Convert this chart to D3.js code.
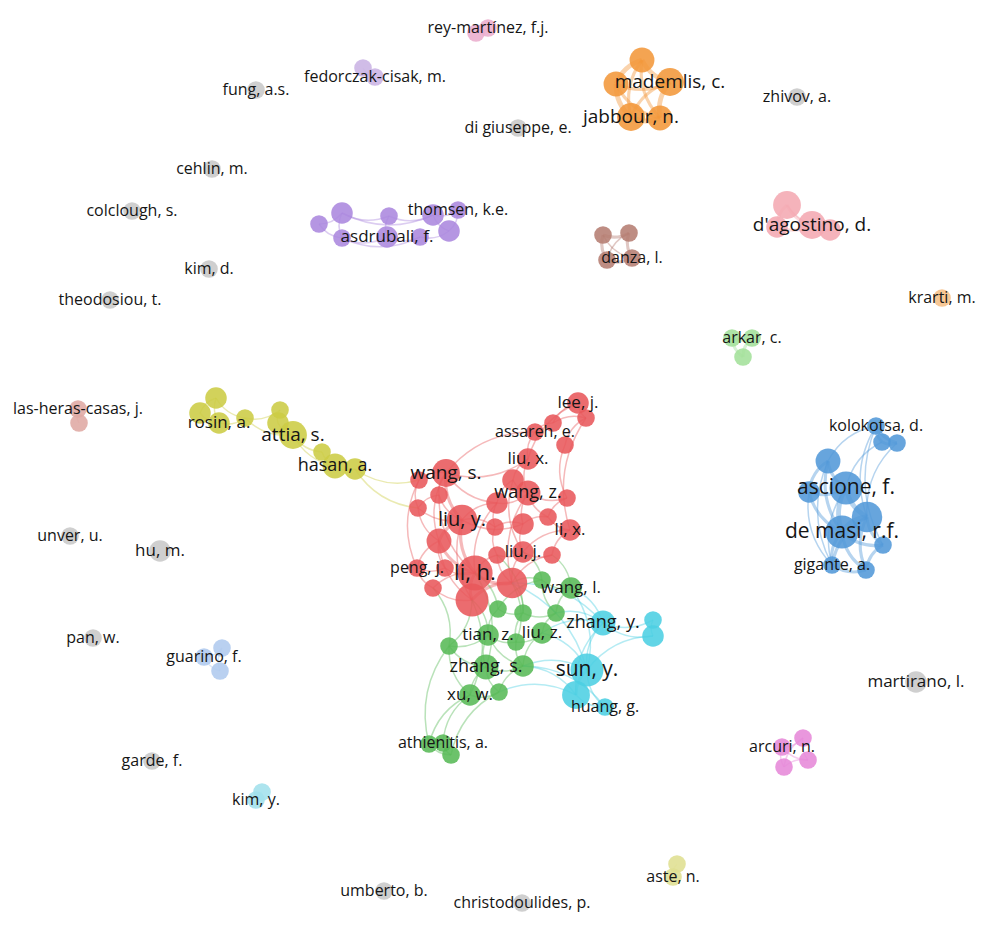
<!DOCTYPE html>
<html>
<head>
<meta charset="utf-8">
<script src="https://cdn.jsdelivr.net/npm/d3@7"></script>
<style>
  html, body { margin: 0; background: #fff; }
  svg { display: block; }
</style>
</head>
<body>
<svg id="map"></svg>
<script>
/* Co-authorship map (VOSviewer style) drawn with D3 v7 */

const clusterNames  = ["red", "green", "blue", "yellow", "purple", "cyan", "orange", "brown", "pink",
                       "lightgreen", "peach", "rose", "lavender", "salmon", "aqua", "sky", "magenta", "olive", "none"];
const clusterColors = ["#e8585b", "#58b957", "#5298d8", "#cccc44", "#ab88de", "#4ccfe2", "#f2973a", "#b57d72", "#f4a9b2",
                       "#a3e09a", "#f6bf86", "#ebadcd", "#c9b3e4", "#dfa9a3", "#a2e0ec", "#afc9ee", "#e689d8", "#dfdf91", "#c8c8c8"];

// [id, label, mapX, mapY, weight]
const redNodes = [
  ["r1", "lee, j.", 578, 403, 3], ["r2", "", 586, 418, 2], ["r3", "", 553, 423, 2],
  ["r4", "assareh, e.", 535, 432, 2], ["r5", "", 565, 445, 2], ["r6", "liu, x.", 528, 459, 3],
  ["r7", "", 513, 480, 3], ["r8", "wang, s.", 446, 473, 5], ["r9", "", 419, 480, 2],
  ["r10", "", 439, 495, 2], ["r11", "", 418, 508, 2], ["r12", "", 497, 503, 3],
  ["r13", "wang, z.", 528, 493, 4], ["r14", "", 567, 498, 2], ["r15", "", 548, 517, 2],
  ["r16", "", 523, 524, 3], ["r17", "", 495, 527, 2], ["r18", "liu, y.", 462, 520, 6],
  ["r19", "li, x.", 570, 530, 3], ["r20", "", 439, 541, 4], ["r21", "", 497, 555, 2],
  ["r22", "liu, j.", 523, 552, 3], ["r23", "", 552, 555, 2], ["r24", "peng, j.", 417, 568, 2],
  ["r25", "", 445, 568, 2], ["r26", "li, h.", 475, 573, 8], ["r27", "", 512, 583, 6],
  ["r28", "", 433, 588, 2], ["r29", "", 472, 600, 7]
];
const greenNodes = [
  ["g1", "", 542, 580, 2], ["g2", "wang, l.", 571, 588, 3], ["g3", "", 498, 609, 2],
  ["g4", "", 523, 613, 2], ["g5", "", 556, 613, 2], ["g6", "", 449, 646, 2],
  ["g7", "tian, z.", 488, 635, 3], ["g8", "", 516, 642, 2], ["g9", "liu, z.", 542, 633, 3],
  ["g10", "zhang, s.", 486, 667, 4], ["g11", "", 523, 666, 3], ["g12", "xu, w.", 470, 695, 3],
  ["g13", "", 499, 692, 2], ["g14", "", 429, 744, 2], ["g15", "athienitis, a.", 443, 743, 2],
  ["g16", "", 451, 755, 2]
];
const cyanNodes = [
  ["c1", "zhang, y.", 603, 623, 4], ["c2", "", 653, 620, 2], ["c3", "", 653, 636, 3],
  ["c4", "sun, y.", 587, 670, 7], ["c5", "", 576, 695, 5], ["c6", "huang, g.", 605, 707, 2]
];
const blueNodes = [
  ["b1", "kolokotsa, d.", 876, 426, 2], ["b2", "", 882, 442, 2], ["b3", "", 897, 443, 2],
  ["b4", "", 828, 461, 4], ["b5", "", 809, 492, 3], ["b6", "ascione, f.", 846, 488, 7],
  ["b7", "", 867, 517, 6], ["b8", "de masi, r.f.", 842, 532, 7], ["b9", "", 883, 545, 2],
  ["b10", "gigante, a.", 832, 565, 2], ["b11", "", 866, 570, 2]
];
const orangeNodes = [
  ["o1", "", 642, 60, 4], ["o2", "", 616, 84, 4], ["o3", "mademlis, c.", 670, 82, 5],
  ["o4", "jabbour, n.", 631, 117, 5], ["o5", "", 660, 118, 4]
];
const purpleNodes = [
  ["p1", "", 319, 224, 2], ["p2", "", 342, 213, 3], ["p3", "", 342, 238, 2],
  ["p4", "", 389, 216, 2], ["p5", "asdrubali, f.", 387, 237, 3], ["p6", "", 420, 237, 2],
  ["p7", "", 433, 215, 3], ["p8", "", 449, 231, 3], ["p9", "thomsen, k.e.", 458, 210, 2]
];
const yellowNodes = [
  ["y1", "", 216, 398, 3], ["y2", "", 200, 413, 3], ["y3", "rosin, a.", 219, 423, 3],
  ["y4", "", 245, 418, 2], ["y5", "", 280, 410, 2], ["y6", "", 278, 423, 3],
  ["y7", "attia, s.", 293, 435, 5], ["y8", "", 322, 452, 2], ["y9", "hasan, a.", 335, 466, 4],
  ["y10", "", 355, 469, 3]
];
const brownNodes = [
  ["dz1", "", 603, 235, 2], ["dz2", "", 629, 233, 2], ["dz3", "", 607, 260, 2], ["dz4", "danza, l.", 632, 258, 2]
];
const pinkNodes = [
  ["da1", "", 787, 205, 5], ["da2", "", 777, 227, 3], ["da3", "d'agostino, d.", 812, 225, 5], ["da4", "", 830, 230, 3]
];
const lightGreenNodes = [["ak1", "", 732, 338, 2], ["ak2", "arkar, c.", 752, 338, 2], ["ak3", "", 743, 357, 2]];
const peachNodes      = [["kr1", "krarti, m.", 942, 298, 2]];
const roseNodes       = [["rm1", "", 476, 33, 2], ["rm2", "rey-martínez, f.j.", 488, 28, 2]];
const lavenderNodes   = [["fc1", "", 363, 68, 2], ["fc2", "fedorczak-cisak, m.", 375, 77, 2]];
const salmonNodes     = [["lh1", "las-heras-casas, j.", 78, 409, 2], ["lh2", "", 79, 423, 2]];
const aquaNodes       = [["ky1", "", 262, 792, 2], ["ky2", "kim, y.", 256, 800, 2]];
const skyNodes        = [["gu1", "guarino, f.", 204, 657, 2], ["gu2", "", 222, 648, 2], ["gu3", "", 220, 671, 2]];
const magentaNodes    = [["ar1", "arcuri, n.", 782, 747, 2], ["ar2", "", 803, 738, 2], ["ar3", "", 808, 760, 2], ["ar4", "", 784, 767, 2]];
const oliveNodes      = [["as1", "", 677, 864, 2], ["as2", "aste, n.", 673, 877, 2]];
const isolatedNodes = [
  ["i1", "fung, a.s.", 256, 90, 2], ["i2", "di giuseppe, e.", 518, 128, 2], ["i3", "zhivov, a.", 797, 97, 2],
  ["i4", "cehlin, m.", 212, 169, 2], ["i5", "colclough, s.", 132, 211, 2], ["i6", "kim, d.", 209, 269, 2],
  ["i7", "theodosiou, t.", 110, 300, 2], ["i8", "unver, u.", 70, 536, 2], ["i9", "hu, m.", 160, 551, 3],
  ["i10", "pan, w.", 93, 638, 2], ["i11", "garde, f.", 152, 761, 2], ["i12", "umberto, b.", 384, 891, 2],
  ["i13", "christodoulides, p.", 522, 903, 2], ["i14", "martirano, l.", 916, 682, 3]
];

// [source, target, strength]
const redLinks = [
  ["r1","r2",1],["r1","r3",1],["r2","r3",1],["r3","r4",1],["r4","r6",1],["r1","r6",1],["r2","r5",1],
  ["r2","r19",1],["r5","r14",1],["r6","r7",1],["r7","r12",1],["r7","r13",1],["r6","r13",1],["r8","r9",1],
  ["r8","r10",1],["r8","r12",1],["r8","r18",2],["r8","r6",1],["r4","r8",1],["r9","r11",1],["r10","r11",1],
  ["r10","r18",1],["r11","r20",1],["r11","r18",1],["r12","r13",1],["r12","r17",1],["r12","r18",1],
  ["r13","r14",1],["r13","r15",1],["r13","r16",1],["r14","r15",1],["r15","r19",1],["r15","r16",1],
  ["r16","r17",1],["r16","r22",1],["r17","r18",1],["r17","r21",1],["r18","r20",2],["r18","r26",2],
  ["r18","r16",1],["r19","r23",1],["r19","r22",1],["r20","r24",1],["r20","r25",1],["r20","r26",2],
  ["r20","r29",1],["r21","r22",1],["r21","r26",1],["r21","r27",1],["r22","r23",1],["r22","r27",1],
  ["r23","r27",1],["r24","r25",1],["r24","r28",1],["r25","r26",1],["r26","r27",2],["r26","r29",2],
  ["r26","r28",1],["r27","r29",2],["r28","r29",1],["r18","r29",1],["r12","r26",1],["r13","r27",1],
  ["r9","r24",1],["r7","r22",1],["r8","r20",1],["r10","r26",1]
];
const greenLinks = [
  ["g1","g2",1],["g1","g3",1],["g1","g5",1],["g2","g5",1],["g3","g4",1],["g3","g7",1],["g4","g8",1],
  ["g4","g5",1],["g5","g9",1],["g6","g7",1],["g6","g10",1],["g6","g12",1],["g7","g8",1],["g7","g10",1],
  ["g8","g9",1],["g8","g11",1],["g9","g11",1],["g10","g11",1],["g10","g12",1],["g10","g13",1],
  ["g11","g13",1],["g12","g13",1],["g12","g15",1],["g12","g14",1],["g13","g16",1],["g14","g15",1],
  ["g15","g16",1],["g14","g16",1],["g6","g14",1],["g7","g11",1],
  ["g3","r26",1],["g1","r27",1],["g4","r27",1],["g7","r29",1],["g6","r29",1],["g10","r26",1],
  ["g8","r27",1],["g12","r29",1],["g1","r22",1],["g2","r23",1],["g4","r21",1],["g6","r28",1]
];
const cyanLinks = [
  ["c1","c2",1],["c1","c3",1],["c2","c3",1],["c1","c4",1],["c4","c5",2],["c4","c6",1],["c5","c6",1],
  ["c3","c4",1],["c1","c5",1],["c1","g2",1],["c1","g5",1],["c1","g9",1],["c4","g9",1],["c4","g11",1],
  ["c5","g11",1],["c4","g2",1],["c1","r27",1],["c5","g13",1],["c4","r27",1],["c6","g11",1]
];
const blueLinks = [
  ["b1","b2",2],["b1","b3",2],["b2","b3",2],["b1","b4",1],["b2","b6",1],["b3","b7",1],["b4","b5",2],
  ["b4","b6",2],["b4","b8",2],["b5","b6",2],["b5","b8",2],["b5","b10",1],["b6","b7",3],["b6","b8",3],
  ["b7","b8",3],["b7","b9",2],["b8","b9",2],["b8","b10",2],["b8","b11",2],["b9","b11",2],["b10","b11",2],
  ["b6","b10",1],["b7","b11",2],["b4","b10",1],["b1","b7",1],["b1","b9",1],["b7","b10",2]
];
const orangeLinks = [
  ["o1","o2",3],["o1","o3",3],["o2","o4",3],["o3","o5",3],["o4","o5",3],["o1","o4",2],["o1","o5",2],
  ["o2","o5",2],["o3","o4",2],["o2","o3",2]
];
const purpleLinks = [
  ["p1","p2",1],["p1","p3",1],["p2","p3",1],["p2","p4",1],["p3","p5",1],["p4","p5",1],["p4","p7",1],
  ["p5","p6",1],["p6","p8",1],["p7","p8",1],["p7","p9",1],["p8","p9",1],["p2","p7",1],["p3","p6",1]
];
const yellowLinks = [
  ["y1","y2",1],["y1","y3",1],["y2","y3",1],["y3","y4",1],["y1","y4",1],["y4","y5",1],["y4","y7",1],
  ["y5","y6",1],["y6","y7",1],["y7","y8",1],["y8","y9",1],["y9","y10",1],["y7","y9",1],
  ["y10","r9",1],["y10","r11",1]
];
const smallLinks = [
  ["dz1","dz2",2],["dz1","dz3",2],["dz2","dz4",2],["dz3","dz4",2],["dz1","dz4",1],["dz2","dz3",1],
  ["da1","da2",2],["da1","da3",2],["da2","da3",2],["da3","da4",2],["da1","da4",1],
  ["ak1","ak2",2],["ak1","ak3",2],["ak2","ak3",2],
  ["ar1","ar2",1],["ar1","ar3",1],["ar1","ar4",1],["ar2","ar3",1],["ar2","ar4",1],["ar3","ar4",1],
  ["gu1","gu2",1],["gu1","gu3",1],["gu2","gu3",1],
  ["rm1","rm2",1],["fc1","fc2",1],["lh1","lh2",1],["ky1","ky2",1],["as1","as2",1]
];

const width = 1000, height = 928;

const groups = [
  [redNodes, "red"], [greenNodes, "green"], [cyanNodes, "cyan"], [blueNodes, "blue"],
  [orangeNodes, "orange"], [purpleNodes, "purple"], [yellowNodes, "yellow"], [brownNodes, "brown"],
  [pinkNodes, "pink"], [lightGreenNodes, "lightgreen"], [peachNodes, "peach"], [roseNodes, "rose"],
  [lavenderNodes, "lavender"], [salmonNodes, "salmon"], [aquaNodes, "aqua"], [skyNodes, "sky"],
  [magentaNodes, "magenta"], [oliveNodes, "olive"], [isolatedNodes, "none"]
];

const nodes = groups.flatMap(([rows, cluster]) =>
  rows.map(([id, label, x, y, weight]) => ({ id, label, x, y, weight, cluster })));
const byId = new Map(nodes.map(d => [d.id, d]));

const links = [...redLinks, ...greenLinks, ...cyanLinks, ...blueLinks, ...orangeLinks,
               ...purpleLinks, ...yellowLinks, ...smallLinks]
  .map(([s, t, w]) => ({ source: byId.get(s), target: byId.get(t), weight: w }));

// Scales
const x = d3.scaleLinear().domain([0, 1000]).range([0, width]);
const y = d3.scaleLinear().domain([0, 928]).range([0, height]);
const r = d3.scaleSqrt().domain([0, 8]).range([0, 17.6]);
const fontSize = d3.scaleLinear().domain([2, 8]).range([16, 22]).clamp(true);
const linkWidth = d3.scaleLinear().domain([1, 3]).range([1.5, 4.8]);
const color = d3.scaleOrdinal().domain(clusterNames).range(clusterColors);

const svg = d3.select("#map")
  .attr("width", width)
  .attr("height", height)
  .attr("viewBox", `0 0 ${width} ${height}`);

svg.append("rect").attr("width", width).attr("height", height).attr("fill", "#fff");

// Curved links, bent the same way as VOSviewer
function curve(d) {
  const x1 = x(d.source.x), y1 = y(d.source.y);
  const x2 = x(d.target.x), y2 = y(d.target.y);
  const dx = x2 - x1, dy = y2 - y1;
  const k = 0.24;
  const cx = (x1 + x2) / 2 - dy * k;
  const cy = (y1 + y2) / 2 + dx * k;
  return `M${x1},${y1}Q${cx},${cy} ${x2},${y2}`;
}

svg.append("g")
  .attr("fill", "none")
  .selectAll("path")
  .data(links)
  .join("path")
  .attr("d", curve)
  .attr("stroke", d => color(d.source.cluster))
  .attr("stroke-opacity", 0.42)
  .attr("stroke-width", d => linkWidth(d.weight));

svg.append("g")
  .selectAll("circle")
  .data(nodes)
  .join("circle")
  .attr("cx", d => x(d.x))
  .attr("cy", d => y(d.y))
  .attr("r", d => r(d.weight))
  .attr("fill", d => color(d.cluster))
  .attr("fill-opacity", 0.88);

svg.append("g")
  .selectAll("text")
  .data(nodes.filter(d => d.label))
  .join("text")
  .attr("x", d => x(d.x))
  .attr("y", d => y(d.y))
  .attr("dy", "0.3em")
  .attr("text-anchor", "middle")
  .attr("font-family", "'Open Sans', sans-serif")
  .attr("font-size", d => fontSize(d.weight) + "px")
  .attr("fill", "#151515")
  .text(d => d.label);
</script>
</body>
</html>
